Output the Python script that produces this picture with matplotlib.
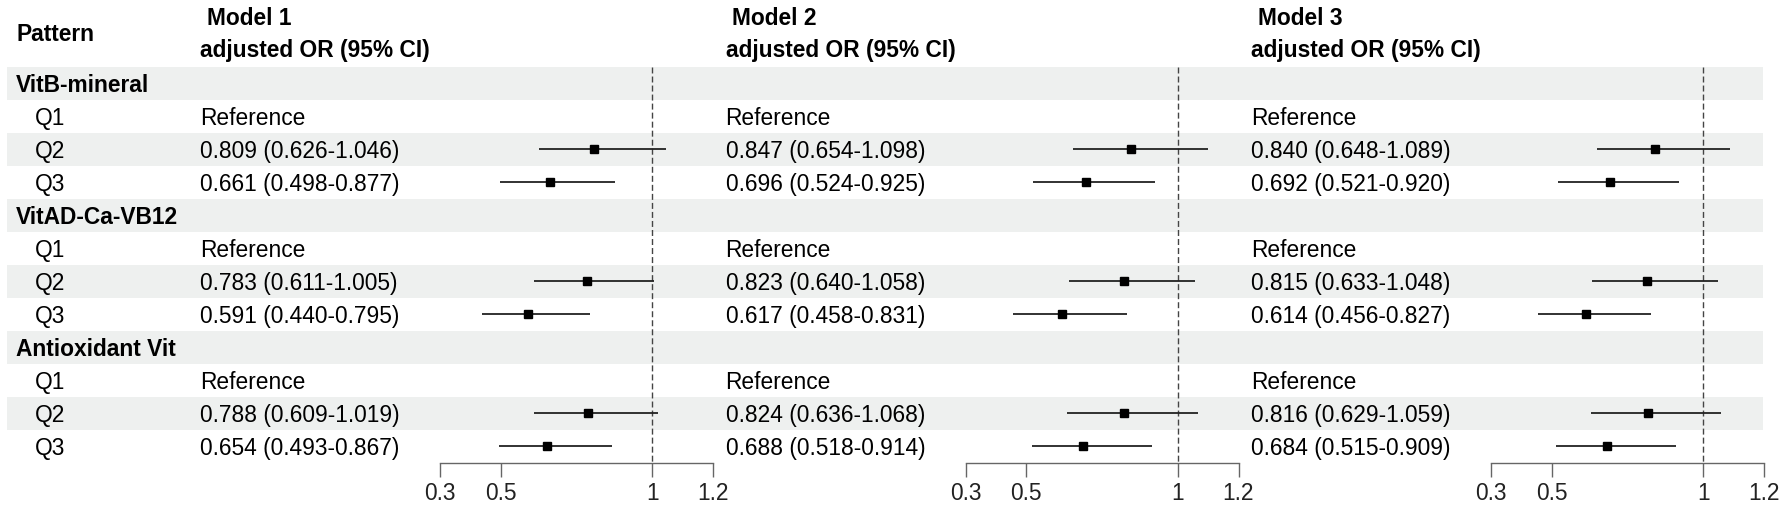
import matplotlib
matplotlib.use("Agg")
import matplotlib.pyplot as plt

plt.rcParams['font.family'] = ['Liberation Sans', 'DejaVu Sans']

W, H, DPI = 1784, 507, 100

# ---- data -------------------------------------------------------------
patterns = ['VitB-mineral', 'VitAD-Ca-VB12', 'Antioxidant Vit']
quartiles = ['Q1', 'Q2', 'Q3']
models = ['Model 1', 'Model 2', 'Model 3']

# order: VitB Q2, VitB Q3, VitAD Q2, VitAD Q3, Antiox Q2, Antiox Q3 (Q1 = reference)
or_m1 = [0.809, 0.661, 0.783, 0.591, 0.788, 0.654]
lo_m1 = [0.626, 0.498, 0.611, 0.440, 0.609, 0.493]
hi_m1 = [1.046, 0.877, 1.005, 0.795, 1.019, 0.867]

or_m2 = [0.847, 0.696, 0.823, 0.617, 0.824, 0.688]
lo_m2 = [0.654, 0.524, 0.640, 0.458, 0.636, 0.518]
hi_m2 = [1.098, 0.925, 1.058, 0.831, 1.068, 0.914]

or_m3 = [0.840, 0.692, 0.815, 0.614, 0.816, 0.684]
lo_m3 = [0.648, 0.521, 0.633, 0.456, 0.629, 0.515]
hi_m3 = [1.089, 0.920, 1.048, 0.827, 1.059, 0.909]

xticks = [0.3, 0.5, 1, 1.2]
xtick_labels = ['0.3', '0.5', '1', '1.2']

model_data = [(or_m1, lo_m1, hi_m1), (or_m2, lo_m2, hi_m2), (or_m3, lo_m3, hi_m3)]

# ---- layout -----------------------------------------------------------
row_h = 33.0
row0_px = 83.0
y_top = (0 - row0_px) / row_h
y_bot = (H - row0_px) / row_h
n_rows = len(patterns) * 4
dy = 0.07  # nudge text down so caps sit centred in the row

stripe = '#eef0ef'
col_step = 525.5
text_x0 = 200
panel_x0 = 440
panel_w = 273

fig = plt.figure(figsize=(W / DPI, H / DPI), dpi=DPI)

bg = fig.add_axes([0, 0, 1, 1])
bg.set_xlim(0, W)
bg.set_ylim(y_bot, y_top)
bg.axis('off')

# stripes: group header rows and Q2 rows
for g in range(len(patterns)):
    for r in (4 * g, 4 * g + 2):
        bg.axhspan(r - 0.5, r + 0.5, xmin=7 / W, xmax=1763 / W,
                   color=stripe, lw=0, zorder=0)

fs = 16.4
bg.text(16, -1.55 + dy, 'Pattern', fontsize=fs, fontweight='bold',
        ha='left', va='center')

for g, name in enumerate(patterns):
    r = 4 * g
    bg.text(16, r + dy, name, fontsize=fs, fontweight='bold',
            ha='left', va='center')
    for k, q in enumerate(quartiles):
        bg.text(35, r + 1 + k + dy, q, fontsize=fs, ha='left', va='center')

for m, (ors, los, his) in enumerate(model_data):
    tx = text_x0 + col_step * m
    bg.text(tx + 7, -2.03 + dy, models[m], fontsize=fs, fontweight='bold',
            ha='left', va='center')
    bg.text(tx, -1.06 + dy, 'adjusted OR (95% CI)', fontsize=fs,
            fontweight='bold', ha='left', va='center')

    ax = fig.add_axes([(panel_x0 + col_step * m) / W, 0, panel_w / W, 1])
    ax.set_xlim(0.3, 1.2)
    ax.set_ylim(y_bot, y_top)
    ax.patch.set_visible(False)

    i = 0
    for g in range(len(patterns)):
        r = 4 * g
        bg.text(tx, r + 1 + dy, 'Reference', fontsize=fs,
                ha='left', va='center')
        for k in (1, 2):
            row = r + 1 + k
            bg.text(tx, row + dy, f'{ors[i]:.3f} ({los[i]:.3f}-{his[i]:.3f})',
                    fontsize=fs, ha='left', va='center')
            ax.plot([los[i], his[i]], [row, row], color='#222222', lw=1.3,
                    solid_capstyle='butt', clip_on=False, zorder=2)
            ax.plot(ors[i], row, marker='s', ms=5.2, color='black',
                    clip_on=False, zorder=3)
            i += 1

    ax.plot([1, 1], [-0.5, n_rows - 0.5], color='#444444', lw=1,
            linestyle=(0, (4.3, 2.2)), zorder=1)

    for side in ('top', 'right', 'left'):
        ax.spines[side].set_visible(False)
    ax.spines['bottom'].set_position(('data', n_rows - 0.5))
    ax.spines['bottom'].set_bounds(0.3, 1.2)
    ax.spines['bottom'].set_color('#666666')
    ax.spines['bottom'].set_linewidth(1)
    ax.set_yticks([])
    ax.set_xticks(xticks)
    ax.set_xticklabels(xtick_labels)
    ax.tick_params(axis='x', direction='out', length=10, width=1,
                   color='#666666', labelsize=fs, labelcolor='#222222', pad=4)

fig.savefig('out.png', dpi=DPI, facecolor='white')
